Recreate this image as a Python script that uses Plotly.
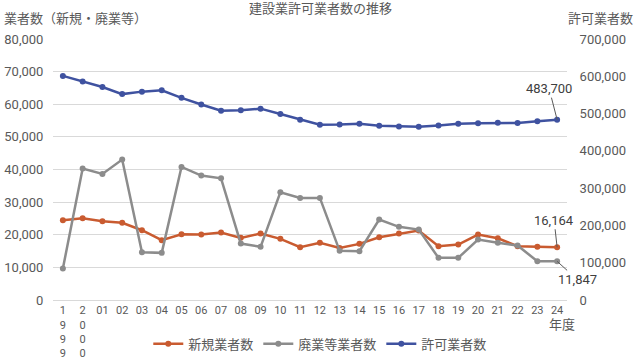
import plotly.graph_objects as go

years = ["1999", "2000", "01", "02", "03", "04", "05", "06", "07", "08", "09", "10", "11",
         "12", "13", "14", "15", "16", "17", "18", "19", "20", "21", "22", "23", "24"]
tick_labels = ["1<br>9<br>9<br>9", "2<br>0<br>0<br>0", "01", "02", "03", "04", "05", "06", "07",
               "08", "09", "10", "11", "12", "13", "14", "15", "16", "17", "18", "19", "20",
               "21", "22", "23", "24"]

new_firms = [24440, 25060, 24140, 23650, 21380, 18320, 20150, 20060, 20680, 19050, 20370,
             18750, 16170, 17520, 15930, 17210, 19240, 20370, 21290, 16480, 17000, 20060,
             18930, 16480, 16300, 16164]
closed_firms = [9650, 40280, 38650, 43030, 14640, 14450, 40800, 38130, 37310, 17300, 16290,
                33020, 31300, 31300, 15070, 14950, 24660, 22420, 21590, 12920, 12920, 18530,
                17520, 16690, 11880, 11847]
licensed_firms = [600980, 585959, 571388, 552210, 558857, 562661, 542264, 524273, 507528,
                  509174, 513196, 498806, 483639, 469900, 470639, 472921, 467635, 465454,
                  464889, 468311, 472473, 473952, 475293, 474948, 479383, 483700]

FONT = "Roboto, Noto Sans CJK JP"
TXT = "#595959"
ORANGE = "#C95B30"
GRAY = "#8C8C8C"
BLUE = "#3F52A0"
LAST = len(years) - 1  # category index of the last year

fig = go.Figure()
fig.add_trace(go.Scatter(x=years, y=new_firms, name="新規業者数", mode="lines+markers",
                         line=dict(color=ORANGE, width=2.5), marker=dict(size=6, color=ORANGE)))
fig.add_trace(go.Scatter(x=years, y=closed_firms, name="廃業等業者数", mode="lines+markers",
                         line=dict(color=GRAY, width=2.5), marker=dict(size=6, color=GRAY)))
fig.add_trace(go.Scatter(x=years, y=licensed_firms, name="許可業者数", mode="lines+markers",
                         line=dict(color=BLUE, width=2.5), marker=dict(size=6, color=BLUE),
                         yaxis="y2"))

annotations = [
    dict(text="建設業許可業者数の推移", xref="paper", yref="paper", x=0.52, y=1.118,
         xanchor="center", yanchor="middle", showarrow=False, font=dict(size=13, color=TXT)),
    dict(text="業者数（新規・廃業等）", xref="paper", yref="paper", x=-0.099, y=1.078,
         xanchor="left", yanchor="middle", showarrow=False, font=dict(size=13, color=TXT)),
    dict(text="許可業者数", xref="paper", yref="paper", x=1.133, y=1.078,
         xanchor="right", yanchor="middle", showarrow=False, font=dict(size=13, color=TXT)),
    dict(text="年度", xref="x", yref="paper", x=LAST, xshift=5, y=-0.095,
         xanchor="center", yanchor="middle", showarrow=False, font=dict(size=13, color=TXT)),
    dict(text=f"{licensed_firms[-1]:,}", xref="x", yref="y2", x=LAST, y=licensed_firms[-1],
         ax=-8, ay=-31, showarrow=True, arrowhead=0, arrowwidth=1, arrowcolor="#595959",
         xanchor="center", yanchor="middle", font=dict(size=13, color="#404040")),
    dict(text=f"{new_firms[-1]:,}", xref="x", yref="y", x=LAST, y=new_firms[-1],
         ax=-3, ay=-27, showarrow=True, arrowhead=0, arrowwidth=1, arrowcolor="#595959",
         xanchor="center", yanchor="middle", font=dict(size=13, color="#404040")),
    dict(text=f"{closed_firms[-1]:,}", xref="x", yref="y", x=LAST, y=closed_firms[-1],
         ax=20, ay=18, showarrow=True, arrowhead=0, arrowwidth=1, arrowcolor="#595959",
         xanchor="center", yanchor="middle", font=dict(size=13, color="#404040")),
]

fig.update_layout(
    width=640, height=360,
    margin=dict(l=53, r=73, t=39, b=60),
    paper_bgcolor="white", plot_bgcolor="white",
    font=dict(family=FONT, size=13, color=TXT),
    showlegend=True,
    legend=dict(orientation="h", x=0.52, xanchor="center", yref="container", y=0.045,
                yanchor="middle", font=dict(size=13, color=TXT)),
    xaxis=dict(type="category", tickmode="array", tickvals=years, ticktext=tick_labels,
               range=[-0.5, len(years) - 0.5],
               showgrid=False, showline=True, linecolor="#d9d9d9", linewidth=1,
               tickfont=dict(size=11, color=TXT), ticks="",
               zeroline=False, automargin=False),
    yaxis=dict(range=[0, 80000], dtick=10000, tickformat=",", showgrid=True,
               gridcolor="#d9d9d9", gridwidth=1, zeroline=False, showline=False,
               tickfont=dict(size=13, color=TXT), ticks="outside", ticklen=6,
               tickcolor="rgba(0,0,0,0)", automargin=False),
    yaxis2=dict(range=[0, 700000], dtick=100000, tickformat=",", overlaying="y", side="right",
                showgrid=False, zeroline=False, showline=False,
                tickfont=dict(size=13, color=TXT), ticks="outside", ticklen=9,
                tickcolor="rgba(0,0,0,0)", automargin=False),
    annotations=annotations,
)

fig.write_html("out.html", config={"displayModeBar": False},
               post_script="document.body.style.margin='0';document.body.style.overflow='hidden';")
